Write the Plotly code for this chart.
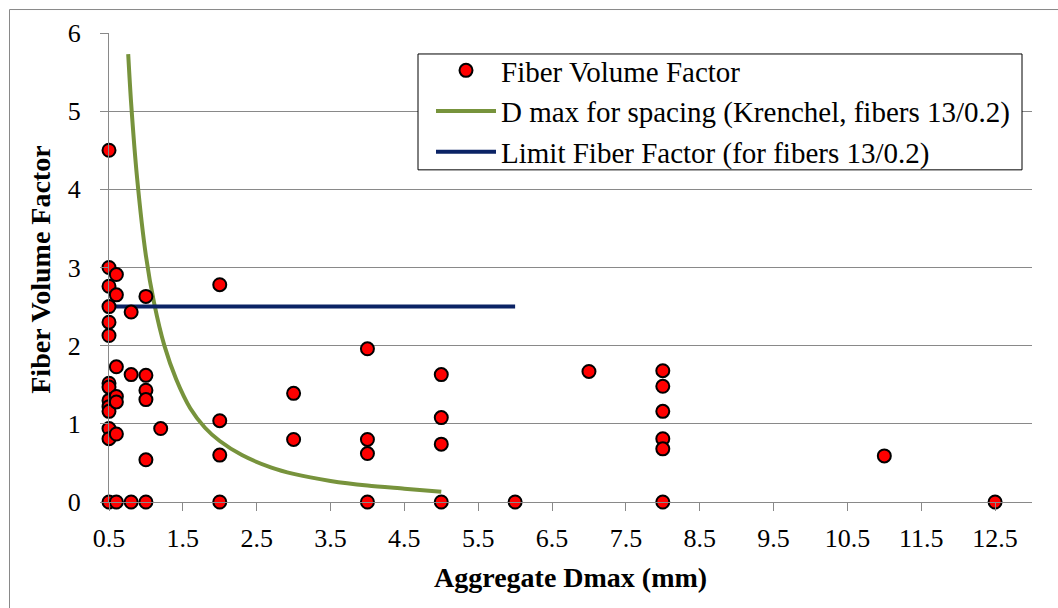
import plotly.graph_objects as go

# Fiber Volume Factor data (Aggregate Dmax in mm, factor)
fvf_x = [0.5, 0.5, 0.5, 0.5, 0.5, 0.5, 0.5, 0.5, 0.5, 0.5, 0.5, 0.5, 0.5, 0.5,
         0.6, 0.6, 0.6, 0.6, 0.6, 0.6, 0.6,
         0.8, 0.8, 0.8,
         1.0, 1.0, 1.0, 1.0, 1.0, 1.0,
         1.2,
         2.0, 2.0, 2.0, 2.0,
         3.0, 3.0,
         4.0, 4.0, 4.0, 4.0,
         5.0, 5.0, 5.0, 5.0,
         6.0,
         7.0,
         8.0, 8.0, 8.0, 8.0, 8.0, 8.0,
         11.0,
         12.5]
fvf_y = [4.50, 3.00, 2.76, 2.50, 2.30, 2.13, 1.52, 1.47, 1.30, 1.22, 1.16, 0.94, 0.81, 0.0,
         2.91, 2.65, 1.73, 1.35, 1.28, 0.87, 0.0,
         2.43, 1.63, 0.0,
         2.63, 1.62, 1.43, 1.31, 0.54, 0.0,
         0.94,
         2.78, 1.04, 0.60, 0.0,
         1.39, 0.80,
         1.96, 0.80, 0.62, 0.0,
         1.63, 1.08, 0.74, 0.0,
         0.0,
         1.67,
         1.68, 1.48, 1.16, 0.81, 0.68, 0.0,
         0.59,
         0.0]

# D max for spacing (Krenchel, fibers 13/0.2) curve
dmax_x = [0.76, 0.80, 0.88, 1.00, 1.11, 1.25, 1.41, 1.60, 1.80, 2.00, 2.30, 2.70, 3.00, 3.50, 4.00, 4.50, 5.00]
dmax_y = [5.73, 5.10, 4.15, 3.15, 2.55, 2.00, 1.57, 1.20, 0.95, 0.78, 0.60, 0.44, 0.36, 0.27, 0.21, 0.17, 0.13]

# Limit Fiber Factor (for fibers 13/0.2)
limit_x = [0.5, 6.0]
limit_y = [2.5, 2.5]

x_title = "Aggregate Dmax (mm)"
y_title = "Fiber Volume Factor"

FONT = "Liberation Serif"
GRID = "#898989"
TICK_SIZE = 26
TEXT_SIZE = 28
LEGEND_SIZE = 29

# pixel geometry of the plot area
L, R, T, B = 109, 1032, 33, 502.5
PW, PH = R - L, B - T


def px(xp):
    return (xp - L) / PW


def py(yp):
    return (B - yp) / PH


fig = go.Figure()
fig.add_trace(go.Scatter(
    x=dmax_x, y=dmax_y, mode="lines", name="D max for spacing (Krenchel, fibers 13/0.2)",
    line=dict(color="#77933C", width=4, shape="spline", smoothing=0.8),
    cliponaxis=False, legendrank=2,
))
fig.add_trace(go.Scatter(
    x=limit_x, y=limit_y, mode="lines", name="Limit Fiber Factor (for fibers 13/0.2)",
    line=dict(color="#0B2365", width=4),
    cliponaxis=False, legendrank=3,
))
fig.add_trace(go.Scatter(
    x=fvf_x, y=fvf_y, mode="markers", name="Fiber Volume Factor",
    marker=dict(size=13, color="#FF0000", line=dict(color="black", width=2)),
    cliponaxis=False, legendrank=1,
))

fig.update_layout(
    width=1058, height=608,
    margin=dict(l=L, r=1058 - R, t=T, b=608 - B),
    paper_bgcolor="white", plot_bgcolor="white",
    font=dict(family=FONT, size=TICK_SIZE, color="black"),
    showlegend=True,
    legend=dict(
        x=px(431), y=py(45), xanchor="left", yanchor="top",
        borderwidth=0, bgcolor="rgba(0,0,0,0)",
        font=dict(family=FONT, size=LEGEND_SIZE, color="black"),
        traceorder="normal",
        itemwidth=60, tracegroupgap=0,
    ),
    xaxis=dict(
        range=[0.5, 13], tick0=0.5, dtick=1, tickformat=".1f",
        showgrid=False, zeroline=False,
        showline=True, linecolor=GRID, linewidth=1,
        ticks="outside", ticklen=8, tickcolor=GRID, tickwidth=1,
        tickfont=dict(family=FONT, size=TICK_SIZE),
        ticklabelstandoff=5,
    ),
    yaxis=dict(
        range=[0, 6], tick0=0, dtick=1,
        showgrid=True, gridcolor=GRID, gridwidth=1, zeroline=False,
        showline=True, linecolor=GRID, linewidth=1,
        ticks="outside", ticklen=8, tickcolor=GRID, tickwidth=1,
        tickfont=dict(family=FONT, size=TICK_SIZE),
        ticklabelstandoff=14,
    ),
    annotations=[
        dict(text="<b>" + x_title + "</b>", xref="paper", yref="paper",
             x=0.5, y=py(578),
             xanchor="center", yanchor="middle", showarrow=False,
             font=dict(family=FONT, size=TEXT_SIZE)),
        dict(text="<b>" + y_title + "</b>", xref="paper", yref="paper",
             x=px(41), y=py(270), textangle=-90,
             xanchor="center", yanchor="middle", showarrow=False,
             font=dict(family=FONT, size=TEXT_SIZE)),
    ],
    shapes=[
        # chart-area border
        dict(type="rect", xref="paper", yref="paper",
             x0=px(9.5), x1=1.2, y0=-0.3, y1=py(9.5),
             line=dict(color=GRID, width=1), fillcolor="rgba(0,0,0,0)", layer="below"),
        # legend box
        dict(type="rect", xref="paper", yref="paper",
             x0=px(418), x1=px(1022), y0=py(170), y1=py(54),
             line=dict(color="black", width=1), fillcolor="white", layer="above"),
    ],
)

fig.write_html("out.html")
